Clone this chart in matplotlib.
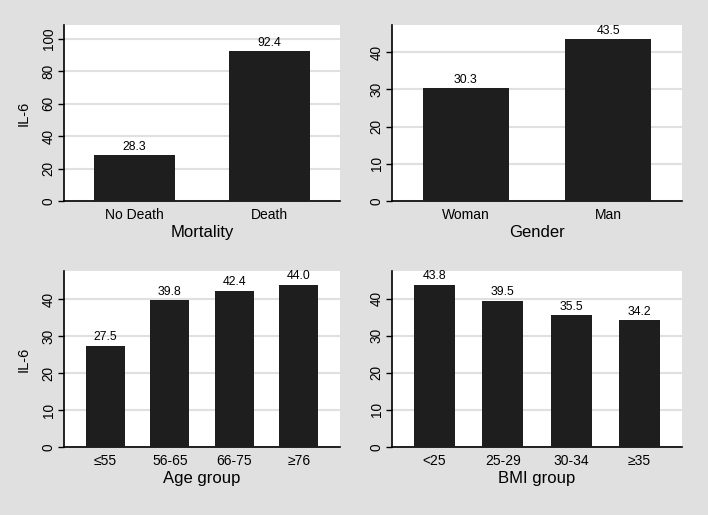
import matplotlib.pyplot as plt
import numpy as np

plt.rcParams['font.family'] = ['Liberation Sans', 'DejaVu Sans']

# Data
mort_cats = ["No Death", "Death"]
mort_vals = [28.3, 92.4]
gender_cats = ["Woman", "Man"]
gender_vals = [30.3, 43.5]
age_cats = ["≤55", "56-65", "66-75", "≥76"]
age_vals = [27.5, 39.8, 42.4, 44.0]
bmi_cats = ["<25", "25-29", "30-34", "≥35"]
bmi_vals = [43.8, 39.5, 35.5, 34.2]

BG = "#e0e0e0"
BAR = "#1e1e1e"
GRID = "#e0e0e0"

fig = plt.figure(figsize=(7.08, 5.15), dpi=100)
fig.patch.set_facecolor(BG)

W, H = 708, 515


def make_ax(left, top, right, bottom):
    return fig.add_axes([left / W, 1 - bottom / H, (right - left) / W, (bottom - top) / H])


panels = [
    # cats, vals, title, ylabel, box, ylim, yticks, xmargin
    (mort_cats, mort_vals, "Mortality", "IL-6", (64, 25, 340, 201), 108.6, np.arange(0, 101, 20), 0.52),
    (gender_cats, gender_vals, "Gender", None, (392, 25, 682, 201), 47.3, np.arange(0, 41, 10), 0.52),
    (age_cats, age_vals, "Age group", "IL-6", (64, 271, 340, 447), 47.7, np.arange(0, 41, 10), 0.64),
    (bmi_cats, bmi_vals, "BMI group", None, (392, 271, 682, 447), 47.5, np.arange(0, 41, 10), 0.62),
]

for cats, vals, title, ylab, box, ytop, yticks, xm in panels:
    ax = make_ax(*box)
    ax.set_facecolor("white")
    x = np.arange(len(cats))
    ax.bar(x, vals, width=0.6, color=BAR, zorder=3)
    for xi, v in zip(x, vals):
        ax.text(xi, v + ytop * 0.014, f"{v:.1f}", ha="center", va="bottom", fontsize=8.8, zorder=4)
    ax.set_xlim(-xm, len(cats) - 1 + xm)
    ax.set_ylim(0, ytop)
    ax.set_yticks(yticks)
    ax.set_yticklabels([str(t) for t in yticks], rotation=90, va="center", fontsize=9.8)
    ax.set_xticks(x)
    ax.set_xticklabels(cats, fontsize=10)
    ax.tick_params(axis="x", length=0, pad=5)
    ax.tick_params(axis="y", length=4, width=1, pad=2)
    ax.yaxis.grid(True, color=GRID, linewidth=1.5, zorder=0)
    ax.set_axisbelow(True)
    for s in ["top", "right"]:
        ax.spines[s].set_visible(False)
    for s in ["left", "bottom"]:
        ax.spines[s].set_linewidth(1.2)
        ax.spines[s].set_color("black")
    ax.set_xlabel(title, fontsize=12, labelpad=2)
    if ylab:
        ax.set_ylabel(ylab, fontsize=10.5, labelpad=8)

plt.savefig("out.png", dpi=100, facecolor=BG)
